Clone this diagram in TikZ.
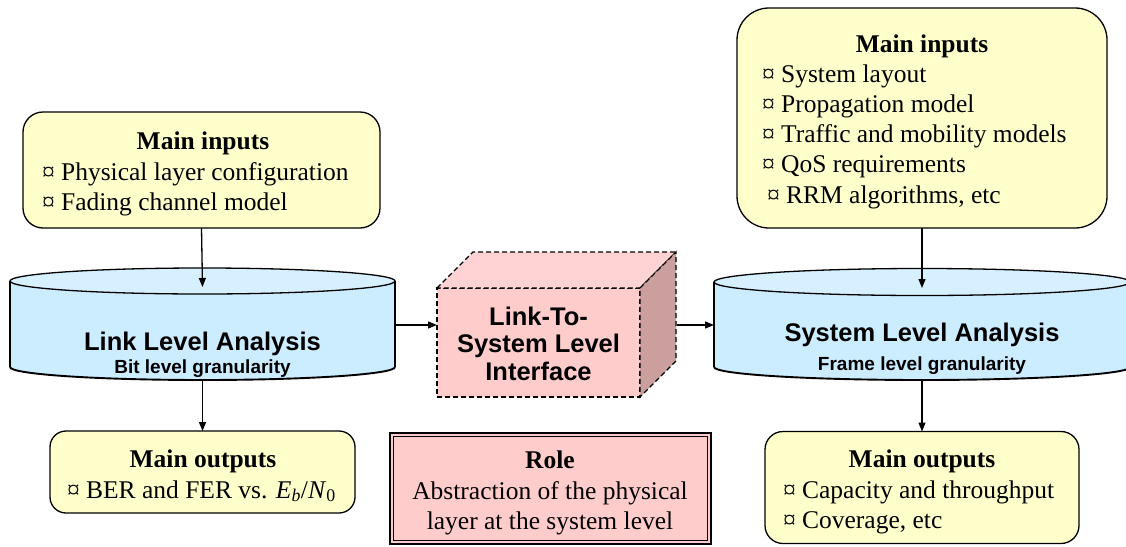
\documentclass[tikz,border=0pt]{standalone}
\usepackage{fontspec}
\setmainfont{Liberation Serif}
\setsansfont{Liberation Sans}
\usetikzlibrary{arrows.meta}
\definecolor{boxyellow}{HTML}{FFFFCC}
\definecolor{cylblue}{HTML}{CCECFF}
\definecolor{cyltop}{HTML}{D6F0FF}
\definecolor{rolepink}{HTML}{FFCCCC}
\definecolor{cubetop}{HTML}{FFD3D3}
\definecolor{cubeside}{HTML}{CC9F9F}
\begin{document}
\begin{tikzpicture}[x=1pt,y=-1pt,
  every node/.style={inner sep=0pt, outer sep=0pt},
  ybox/.style={draw, fill=boxyellow, line width=1.3pt, rounded corners=#1},
  serif/.style={font=\fontsize{25.5}{30}\selectfont},
  serifb/.style={font=\fontsize{25.5}{30}\selectfont\bfseries},
  sansbig/.style={font=\fontsize{25.5}{28}\selectfont\sffamily\bfseries},
  sanssmall/.style={font=\fontsize{19}{22}\selectfont\sffamily\bfseries},
  cyl/.style={line width=1.3pt},
  conn/.style={line width=1.3pt, -{Triangle[length=9pt,width=7pt]}},
  cubeedge/.style={draw, dashed, line width=1.3pt, dash pattern=on 5pt off 3pt}
]
\useasboundingbox (0,0) rectangle (1126,546);

% ---------- left inputs ----------
\node[ybox=20pt, minimum width=357pt, minimum height=116pt] (lin) at (201.5,170) {};
\node[serifb, anchor=base] (lint) at (203,149) {Main inputs};
\node[serif, anchor=base west] (lin1) at (42,180) {¤ Physical layer configuration};
\node[serif, anchor=base west] (lin2) at (42,210) {¤ Fading channel model};

% ---------- right inputs ----------
\node[ybox=32pt, minimum width=370pt, minimum height=220pt] (rin) at (922,118) {};
\node[serifb, anchor=base] (rint) at (922,52) {Main inputs};
\node[serif, anchor=base west] (rin1) at (762,82) {¤ System layout};
\node[serif, anchor=base west] (rin2) at (762,112) {¤ Propagation model};
\node[serif, anchor=base west] (rin3) at (762,142) {¤ Traffic and mobility models};
\node[serif, anchor=base west] (rin4) at (762,172) {¤ QoS requirements};
\node[serif, anchor=base west] (rin5) at (767,203) {¤ RRM algorithms, etc};

% ---------- left cylinder ----------
\fill[cylblue] (10,281) -- (10,367) arc[start angle=180, end angle=0, x radius=192.5, y radius=13] -- (395,281) -- cycle;
\draw[cyl] (10,281) -- (10,367);
\draw[cyl] (395,281) -- (395,367);
\draw[line width=1.9pt] (10,367) arc[start angle=180, end angle=0, x radius=192.5, y radius=13];
\filldraw[cyl, fill=cyltop] (202.5,281) ellipse [x radius=192.5, y radius=13];
\coordinate (llatop) at (202.5,287);
\coordinate (llabot) at (202.5,381);
\coordinate (llaright) at (395,325);
\node[sansbig, anchor=base] (llat) at (202.5,350) {Link Level Analysis};
\node[sanssmall, anchor=base] (llas) at (202.5,373) {Bit level granularity};

% ---------- right cylinder ----------
\fill[cylblue] (714,282) -- (714,367) arc[start angle=180, end angle=0, x radius=208, y radius=13] -- (1130,282) -- cycle;
\draw[cyl] (714,282) -- (714,367);
\draw[line width=1.9pt] (714,367) arc[start angle=180, end angle=0, x radius=208, y radius=13];
\filldraw[cyl, fill=cyltop] (922,282) ellipse [x radius=208, y radius=13.5];
\coordinate (slatop) at (922,288);
\coordinate (slabot) at (922,381);
\coordinate (slaleft) at (714,325);
\node[sansbig, anchor=base] (slat) at (922,341) {System Level Analysis};
\node[sanssmall, anchor=base] (slas) at (922,370) {Frame level granularity};

% ---------- cube ----------
\node[cubeedge, fill=rolepink, minimum width=203pt, minimum height=109pt] (cube) at (538.5,342.5) {};
\filldraw[cubeedge, fill=cubetop] (cube.north west) -- ++(36,-36) -- ++(203,0) -- (cube.north east) -- cycle;
\filldraw[cubeedge, fill=cubeside] (cube.north east) -- ++(36,-36) -- ++(0,109) -- (cube.south east) -- cycle;
\coordinate (cubeback) at (676.5,325);
\coordinate (cubefront) at (437,325);
\node[sansbig, anchor=base] (cub1) at (538.5,325) {Link-To-};
\node[sansbig, anchor=base] (cub2) at (538.5,352) {System Level};
\node[sansbig, anchor=base] (cub3) at (538.5,380) {Interface};

% ---------- left outputs ----------
\node[ybox=16pt, minimum width=305pt, minimum height=82pt] (lout) at (202.5,472) {};
\node[serifb, anchor=base] (loutt) at (203,467) {Main outputs};
\node[serif, anchor=base west] (lout1) at (67,498) {¤ BER and FER vs. \textit{E}\textsubscript{\textit{b}}/\textit{N}\textsubscript{0}};

% ---------- role ----------
\node[draw, line width=2pt, fill=rolepink, minimum width=321pt, minimum height=111pt] (role) at (550.5,488.5) {};
\draw[line width=0.8pt] ([shift={(3.5,3.5)}]role.north west) rectangle ([shift={(-3.5,-3.5)}]role.south east);
\node[serifb, anchor=base] (rolet) at (550,468) {Role};
\node[serif, anchor=base] (role1) at (550,499) {Abstraction of the physical};
\node[serif, anchor=base] (role2) at (550,529) {layer at the system level};

% ---------- right outputs ----------
\node[ybox=18pt, minimum width=314pt, minimum height=112pt] (rout) at (922,487.5) {};
\node[serifb, anchor=base] (routt) at (922,467) {Main outputs};
\node[serif, anchor=base west] (rout1) at (783,498) {¤ Capacity and throughput};
\node[serif, anchor=base west] (rout2) at (783,528) {¤ Coverage, etc};

% ---------- connectors ----------
\draw[conn] (lin.south) -- (llatop);
\draw[conn] (llabot) -- (lout.north);
\draw[conn] (rin.south) -- (slatop);
\draw[conn] (slabot) -- (rout.north);
\draw[conn] (llaright) -- (cubefront);
\draw[conn] (cubeback) -- (slaleft);
\end{tikzpicture}
\end{document}
